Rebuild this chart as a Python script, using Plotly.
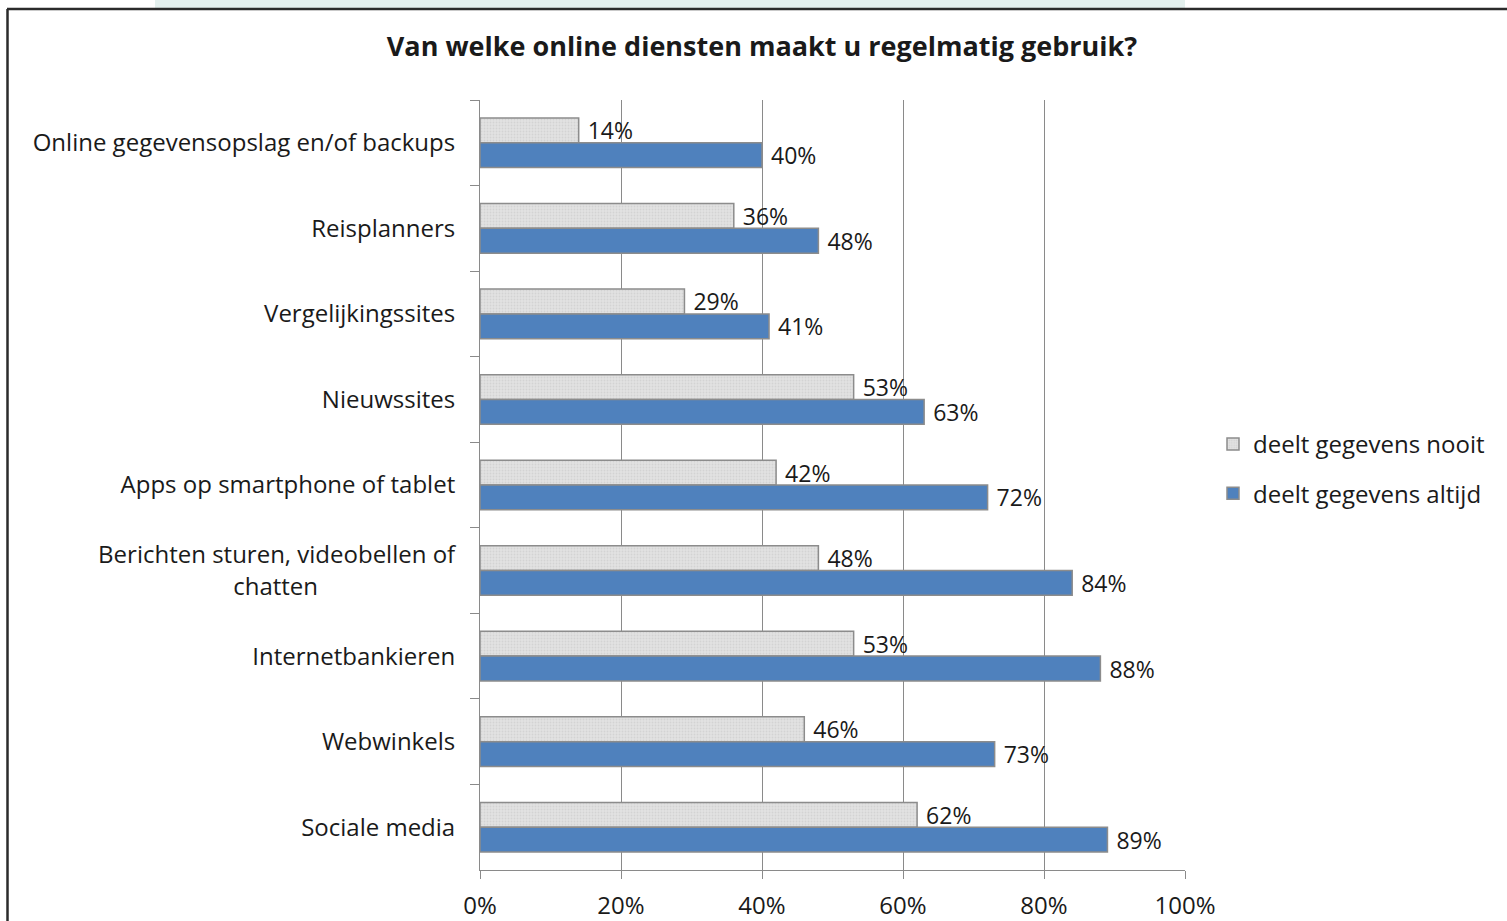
import plotly.graph_objects as go

NBSP = "\u00a0"

categories = [
    "Online gegevensopslag en/of backups",
    "Reisplanners",
    "Vergelijkingssites",
    "Nieuwssites",
    "Apps op smartphone of tablet",
    "Berichten sturen, videobellen of<br>chatten" + NBSP * 22,
    "Internetbankieren",
    "Webwinkels",
    "Sociale media",
]
nooit = [0.14, 0.36, 0.29, 0.53, 0.42, 0.48, 0.53, 0.46, 0.62]
altijd = [0.40, 0.48, 0.41, 0.63, 0.72, 0.84, 0.88, 0.73, 0.89]
series_names = ["deelt gegevens nooit", "deelt gegevens altijd"]
x_ticks = [0, 0.2, 0.4, 0.6, 0.8, 1.0]

FONT = "Open Sans, Lato, sans-serif"
TXT = "#1a1a1a"
GRID = "#8a8a8a"
FS = 24

fig = go.Figure()
fig.add_trace(go.Bar(
    y=categories, x=nooit, orientation="h", name=series_names[0],
    legendgroup="a",
    marker=dict(color="#dedede", line=dict(color="#8c8c8c", width=1.5),
                pattern=dict(shape=".", fgcolor="#c4c4c4", bgcolor="#e2e2e2", size=3, solidity=0.3)),
    texttemplate=NBSP + "%{x:.0%}", textposition="outside",
    textfont=dict(family=FONT, size=23, color=TXT), cliponaxis=False,
))
fig.add_trace(go.Bar(
    y=categories, x=altijd, orientation="h", name=series_names[1],
    legendgroup="b",
    marker=dict(color="#4f81bd", line=dict(color="#8c8c8c", width=1.5)),
    texttemplate=NBSP + "%{x:.0%}", textposition="outside",
    textfont=dict(family=FONT, size=23, color=TXT), cliponaxis=False,
))

W, H = 1507, 921
L, R, T, B = 480, 322, 100, 51
pw = W - L - R
ph = H - T - B

def px_x(p):
    return (p - L) / pw

def px_y(p):
    return (H - B - p) / ph

fig.update_layout(
    width=W, height=H,
    margin=dict(l=L, r=R, t=T, b=B, autoexpand=False),
    paper_bgcolor="white", plot_bgcolor="white",
    barmode="group", bargap=0.42, bargroupgap=0,
    uniformtext=dict(mode=False),
    font=dict(family=FONT, size=FS, color=TXT),
    title=dict(text="<b>Van welke online diensten maakt u regelmatig gebruik?</b>",
               x=762 / W, xref="container", xanchor="center",
               y=1 - 47 / H, yref="container", yanchor="middle",
               font=dict(family=FONT, size=27, color=TXT)),
    legend=dict(x=px_x(1213), y=px_y(469), xanchor="left", yanchor="middle",
                font=dict(family=FONT, size=FS, color=TXT),
                tracegroupgap=15, itemwidth=30, bgcolor="rgba(0,0,0,0)"),
    xaxis=dict(range=[0, 1], tickvals=x_ticks, tickformat=".0%",
               showgrid=True, gridcolor=GRID, gridwidth=1,
               showline=True, linecolor=GRID, linewidth=1,
               ticks="outside", ticklen=8, tickcolor=GRID,
               ticklabelstandoff=6, zeroline=False,
               tickfont=dict(family=FONT, size=FS, color=TXT)),
    yaxis=dict(autorange="reversed", type="category", tickson="boundaries",
               showgrid=False, showline=True, linecolor=GRID, linewidth=1,
               ticks="outside", ticklen=9, tickcolor=GRID,
               ticklabelstandoff=19,
               tickfont=dict(family=FONT, size=FS, color=TXT)),
    showlegend=True,
)
fig.update_traces(constraintext="none")

# decorative frame and light band above it
fig.add_shape(type="rect", xref="paper", yref="paper",
              x0=px_x(155), x1=px_x(1185), y0=px_y(8), y1=px_y(-5),
              fillcolor="#e4f0ee", line=dict(width=0), layer="below")
fig.add_shape(type="line", xref="paper", yref="paper",
              x0=px_x(7), x1=px_x(1520), y0=px_y(9), y1=px_y(9),
              line=dict(color="#2b2b2b", width=2.5))
fig.add_shape(type="line", xref="paper", yref="paper",
              x0=px_x(7.5), x1=px_x(7.5), y0=px_y(9), y1=px_y(940),
              line=dict(color="#2b2b2b", width=2.5))

fig.write_html("out.html", config={"displayModeBar": False},
               post_script="document.body.style.margin='0';document.body.style.overflow='hidden';")
